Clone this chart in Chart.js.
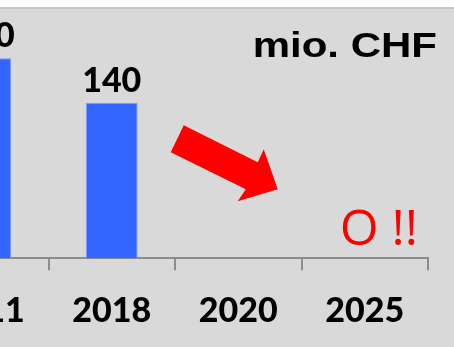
<!DOCTYPE html>
<html>
<head>
<meta charset="utf-8">
<script src="https://cdn.jsdelivr.net/npm/chart.js@4"></script>
<style>
  html, body { margin: 0; padding: 0; background: #fff; overflow: hidden; }
  #frame { position: absolute; left: 0; top: 7px; width: 454px; height: 340px;
           background: #d9d9d9; border-top: 2px solid #c4c4c4; overflow: hidden; }
  #wrap { position: absolute; left: -78px; top: 0; width: 532px; height: 346px; }
</style>
</head>
<body>
<div id="frame"><div id="wrap"><canvas id="chart"></canvas></div></div>
<script>
// données
const annees = ['2011', '2018', '2020', '2025'];
const montants = [180, 140, null, null];
const titre = 'mio. CHF';
const alerte = 'O !!';

// étiquettes de valeurs, flèche et textes
const decor = {
    id: 'decor',
    afterDatasetsDraw(chart) {
        const ctx = chart.ctx;
        const x = chart.scales.x, y = chart.scales.y;
        const area = chart.chartArea;
        ctx.save();

        // valeurs au-dessus des barres
        ctx.font = '900 34px Lato';
        ctx.fillStyle = '#000';
        ctx.textAlign = 'center';
        ctx.textBaseline = 'alphabetic';
        montants.forEach((v, i) => {
            if (v == null) return;
            ctx.fillText(String(v), x.getPixelForValue(i), y.getPixelForValue(v) - 11);
        });

        // flèche rouge (relative à la barre 2018)
        const ox = x.getPixelForValue(1), oy = area.bottom;
        const pts = [[72, -133], [146, -96], [152, -109], [166, -69], [126, -57], [134, -69], [59, -106]];
        ctx.fillStyle = '#ff0000';
        ctx.beginPath();
        pts.forEach((p, k) => k ? ctx.lineTo(ox + p[0], oy + p[1]) : ctx.moveTo(ox + p[0], oy + p[1]));
        ctx.closePath();
        ctx.fill();

        // O !!
        ctx.font = '50px "Open Sans"';
        ctx.textAlign = 'right';
        ctx.fillText(alerte, area.right - 10, area.bottom - 13);

        // titre unité, étiré horizontalement
        ctx.fillStyle = '#000';
        ctx.font = 'bold 35px "Liberation Sans"';
        ctx.textAlign = 'right';
        ctx.translate(area.right + 9, 48);
        ctx.scale(1.2, 1);
        ctx.fillText(titre, 0, 0);
        ctx.restore();
    }
};

new Chart(document.getElementById('chart'), {
    type: 'bar',
    data: {
        labels: annees,
        datasets: [{
            data: montants,
            backgroundColor: '#3366ff',
            borderColor: '#7f99ff',
            borderWidth: 1,
            categoryPercentage: 1,
            barPercentage: 0.41
        }]
    },
    options: {
        responsive: true,
        maintainAspectRatio: false,
        animation: false,
        layout: { padding: { top: 27, right: 26, bottom: 4, left: 0 } },
        plugins: { legend: { display: false }, tooltip: { enabled: false } },
        scales: {
            x: {
                offset: true,
                grid: { offset: true, drawOnChartArea: false, tickLength: 12, color: '#8c8c8c', lineWidth: 2 },
                border: { display: true, color: '#8c8c8c', width: 2 },
                ticks: { color: '#000', font: { family: 'Lato', weight: 900, size: 34 }, padding: 20, maxRotation: 0 }
            },
            y: { display: false, min: 0, max: 200 }
        }
    },
    plugins: [decor]
});
</script>
</body>
</html>
